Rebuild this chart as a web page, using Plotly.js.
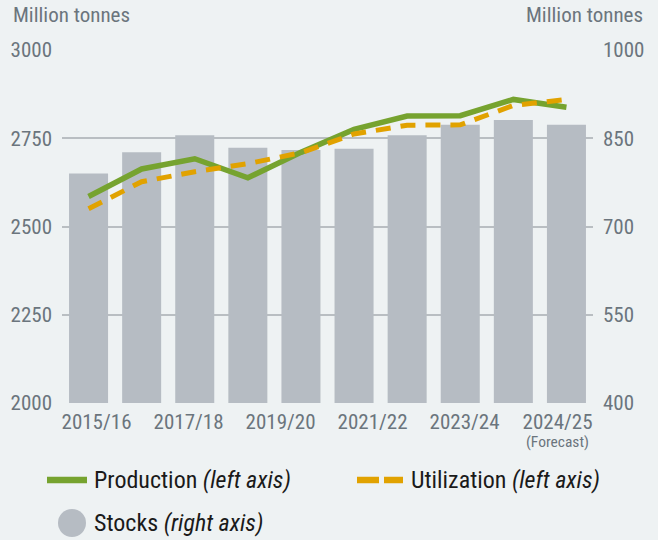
<!DOCTYPE html>
<html>
<head>
<meta charset="utf-8">
<script src="https://cdn.plot.ly/plotly-3.0.1.min.js"></script>
<style>
  html, body { margin: 0; padding: 0; background: #eef2f3; }
  #chart { width: 658px; height: 540px; }
</style>
</head>
<body>
<div id="chart"></div>
<script>
const categories = ['2015/16','2016/17','2017/18','2018/19','2019/20','2020/21','2021/22','2022/23','2023/24','2024/25'];
const production = [2585, 2663, 2692, 2638, 2710, 2775, 2813, 2814, 2860, 2838];
const utilization = [2550, 2627, 2655, 2678, 2709, 2762, 2787, 2788, 2843, 2860];
const stocks = [790, 826, 855, 834, 830, 832, 855, 873, 881, 873];
const tickLabels = ['2015/16', '2017/18', '2019/20', '2021/22', '2023/24', '2024/25'];
const forecastNote = '(Forecast)';
const leftTicks = [2000, 2250, 2500, 2750, 3000];
const rightTicks = [400, 550, 700, 850, 1000];

const FONT = 'Roboto Condensed, Roboto, sans-serif';
const GREY = '#6b757d';
const GREEN = '#76a32f';
const ORANGE = '#e1a200';
const BARC = '#b6bcc3';
const TS = 21;
const LS = 24;
const TICKPOS = [0.15, 1.883, 3.616, 5.348, 7.081, 8.832];

const traces = [
  {
    type: 'bar', x: categories, y: stocks, name: 'Stocks (right axis)',
    xaxis: 'x', yaxis: 'y', marker: { color: BARC }, showlegend: false
  },
  {
    type: 'scatter', mode: 'lines', x: categories, y: production, name: 'Production (left axis)',
    xaxis: 'x', yaxis: 'y2', line: { color: GREEN, width: 5.5 }, showlegend: false
  },
  {
    type: 'scatter', mode: 'lines', x: categories, y: utilization, name: 'Utilization (left axis)',
    xaxis: 'x', yaxis: 'y2', line: { color: ORANGE, width: 5, dash: '15px,10px' }, showlegend: false
  }
];

const L = 62, T = 50, W = 531, H = 353;
const px = v => (v - L) / W;
const py = v => (T + H - v) / H;

const layout = {
  width: 658, height: 540,
  margin: { l: L, r: 658 - L - W, t: T, b: 540 - T - H, pad: 0 },
  paper_bgcolor: '#eef2f3', plot_bgcolor: '#eef2f3',
  font: { family: FONT, color: GREY, size: TS },
  bargap: 0.265,
  showlegend: false,
  xaxis: {
    type: 'category', range: [-0.5, 9.5],
    tickmode: 'array', tickvals: TICKPOS, ticktext: tickLabels,
    showgrid: false, zeroline: false, showline: false, ticks: '',
    tickfont: { family: FONT, color: GREY, size: TS }, ticklabelstandoff: 4
  },
  yaxis: {
    side: 'right', range: [400, 1000], tickmode: 'array', tickvals: rightTicks,
    showgrid: true, gridcolor: '#b9bec2', gridwidth: 2, zeroline: false, showline: false, ticks: '',
    tickfont: { family: FONT, color: GREY, size: TS }, ticklabelstandoff: 9
  },
  yaxis2: {
    side: 'left', overlaying: 'y', range: [2000, 3000], tickmode: 'array', tickvals: leftTicks,
    showgrid: false, zeroline: false, showline: false, ticks: '',
    tickfont: { family: FONT, color: GREY, size: TS }, ticklabelstandoff: 9
  },
  annotations: [
    { xref: 'x', yref: 'paper', x: TICKPOS[5], y: py(442), xanchor: 'center', yanchor: 'middle',
      text: forecastNote, showarrow: false, font: { family: FONT, color: GREY, size: 15.5 } },
    { xref: 'paper', yref: 'paper', x: px(11), y: py(15), xanchor: 'left', yanchor: 'middle',
      text: 'Million tonnes', showarrow: false, font: { family: FONT, color: GREY, size: TS } },
    { xref: 'paper', yref: 'paper', x: px(645), y: py(15), xanchor: 'right', yanchor: 'middle',
      text: 'Million tonnes', showarrow: false, font: { family: FONT, color: GREY, size: TS } },
    { xref: 'paper', yref: 'paper', x: px(92), y: py(480), xanchor: 'left', yanchor: 'middle',
      text: 'Production <i>(left axis)</i>', showarrow: false, font: { family: FONT, color: '#1a1a1a', size: LS } },
    { xref: 'paper', yref: 'paper', x: px(409), y: py(480), xanchor: 'left', yanchor: 'middle',
      text: 'Utilization <i>(left axis)</i>', showarrow: false, font: { family: FONT, color: '#1a1a1a', size: LS } },
    { xref: 'paper', yref: 'paper', x: px(92), y: py(523), xanchor: 'left', yanchor: 'middle',
      text: 'Stocks <i>(right axis)</i>', showarrow: false, font: { family: FONT, color: '#1a1a1a', size: LS } }
  ],
  shapes: [
    { type: 'line', xref: 'paper', yref: 'paper', x0: px(47), x1: px(87), y0: py(480), y1: py(480),
      line: { color: GREEN, width: 6.5 } },
    { type: 'line', xref: 'paper', yref: 'paper', x0: px(357), x1: px(379), y0: py(480), y1: py(480),
      line: { color: ORANGE, width: 6.5 } },
    { type: 'line', xref: 'paper', yref: 'paper', x0: px(384), x1: px(403), y0: py(480), y1: py(480),
      line: { color: ORANGE, width: 6.5 } },
    { type: 'circle', xref: 'paper', yref: 'paper', x0: px(58), x1: px(86), y0: py(509), y1: py(537),
      fillcolor: BARC, line: { width: 0 } }
  ]
};

Plotly.newPlot('chart', traces, layout, { displayModeBar: false, staticPlot: true });
</script>
</body>
</html>
